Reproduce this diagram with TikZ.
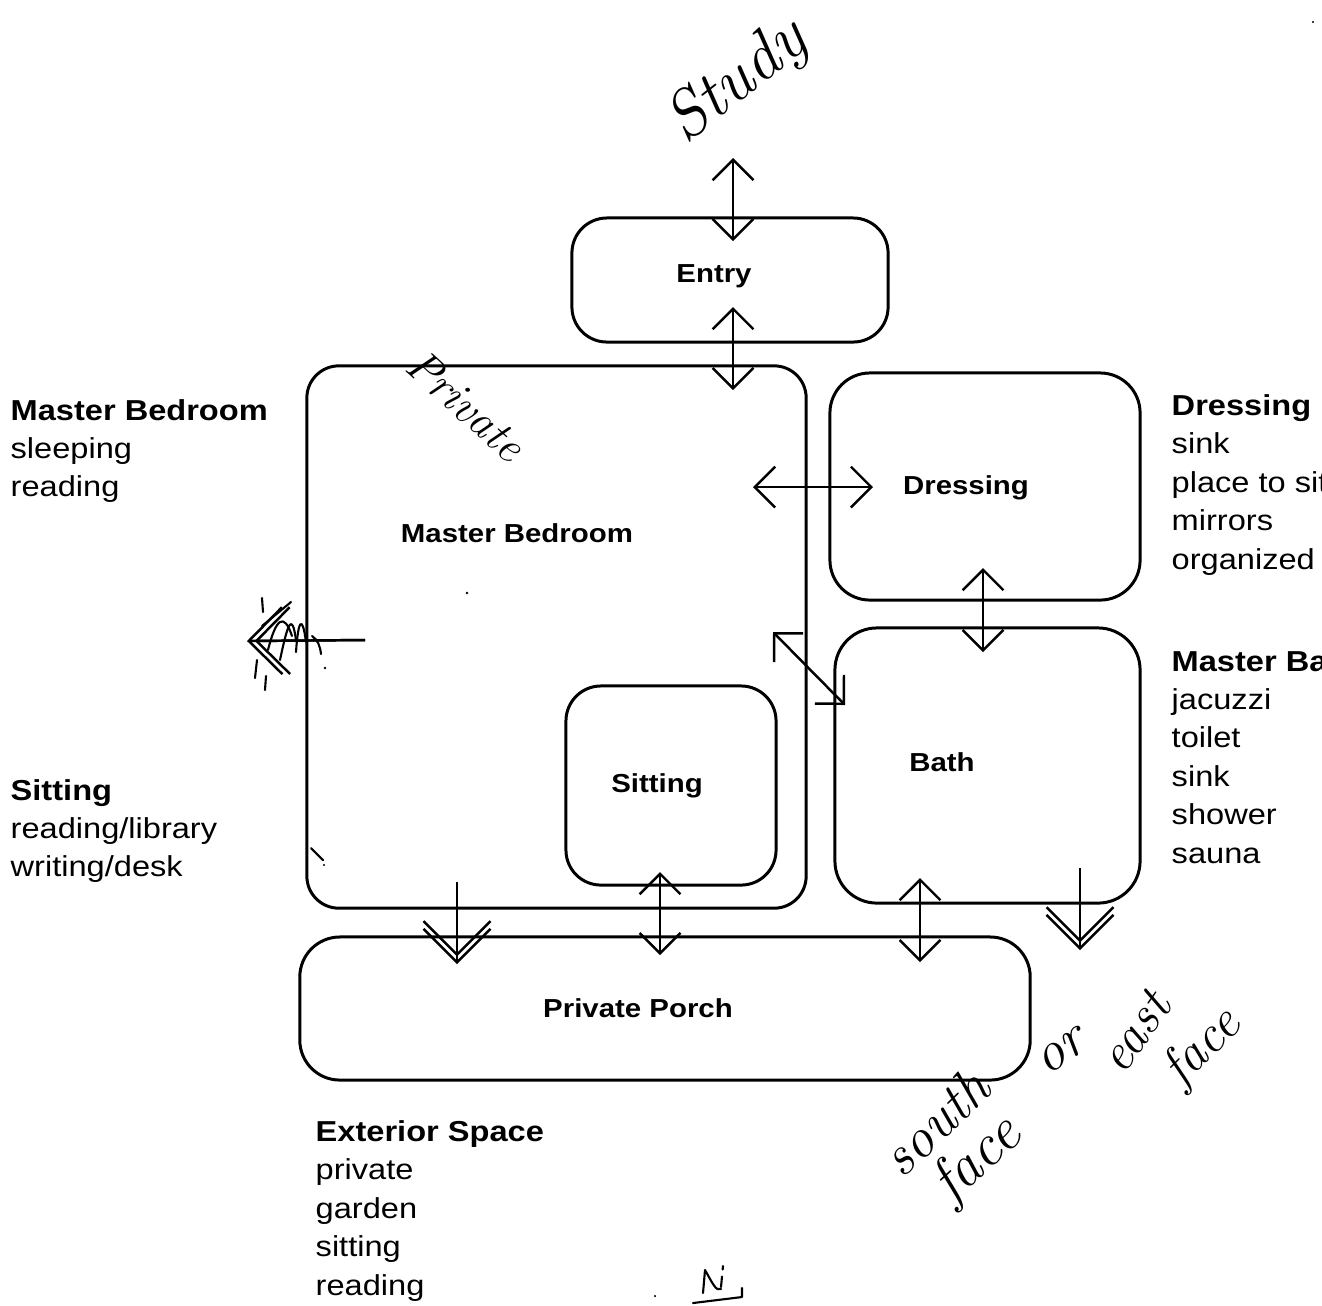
\documentclass[tikz,border=0pt]{standalone}
\usepackage{fontspec}
\newfontfamily\lab{Liberation Sans}[FakeStretch=1.13]
\usetikzlibrary{arrows.meta}
\begin{document}
\begin{tikzpicture}[x=0.01cm,y=-0.01cm,
  room/.style={draw, line width=0.85pt, rounded corners=#1, inner sep=0pt},
  room/.default=0.35cm,
  roomname/.style={font=\lab\fontsize{7.4}{9}\selectfont\bfseries, inner sep=0pt, anchor=base},
  head/.style={font=\lab\fontsize{8.2}{10}\selectfont\bfseries, inner sep=0pt, anchor=base west},
  item/.style={font=\lab\fontsize{8.2}{10}\selectfont, inner sep=0pt, anchor=base west},
  hand/.style={font=\itshape\fontsize{#1}{#1}\selectfont, inner sep=0pt},
  >={Straight Barb[length=5.8pt,width=11.6pt]},
  link/.style={line width=0.7pt, <->},
  exit/.style={line width=0.7pt, -{Straight Barb[length=9.5pt,width=19pt]}},
  scribble/.style={line width=0.6pt, line cap=round, line join=round}]

\clip (0,0) rectangle (1322,1305);
\useasboundingbox (0,0) rectangle (1322,1305);

% rooms
\node[room=0.35cm, minimum width=3.16cm, minimum height=1.24cm] (entry) at (730,280) {};
\node[room=0.32cm, minimum width=4.99cm, minimum height=5.42cm] (bed) at (556.5,637) {};
\node[room=0.4cm, minimum width=3.10cm, minimum height=2.27cm] (dress) at (985,486.5) {};
\node[room=0.42cm, minimum width=3.05cm, minimum height=2.75cm] (bath) at (987.5,765.5) {};
\node[room=0.35cm, minimum width=2.10cm, minimum height=1.99cm] (sit) at (671,785.5) {};
\node[room=0.4cm, minimum width=7.30cm, minimum height=1.43cm] (porch) at (665,1008.5) {};

% room names
\node[roomname] (entryT) at (714,282) {Entry};
\node[roomname] (bedT) at (517,542) {Master Bedroom};
\node[roomname] (dressT) at (966,494) {Dressing};
\node[roomname] (bathT) at (942,771) {Bath};
\node[roomname] (sitT) at (657,792) {Sitting};
\node[roomname] (porchT) at (638,1017) {Private Porch};

% arrow end points
\coordinate (studyA) at (733,158);  \coordinate (studyB) at (733,241);
\coordinate (ebA) at (733,307);     \coordinate (ebB) at (733,390);
\coordinate (bdA) at (753,487);     \coordinate (bdB) at (873,487);
\coordinate (dbA) at (983,568);     \coordinate (dbB) at (983,652);
\coordinate (diagA) at (773,632);   \coordinate (diagB) at (845,705);
\coordinate (spA) at (660,872);     \coordinate (spB) at (660,955);
\coordinate (bpA) at (920,878);     \coordinate (bpB) at (920,962);
\coordinate (westA) at (365,640);   \coordinate (westB) at (247,641);
\coordinate (southA) at (457,882);  \coordinate (southB) at (457,964);
\coordinate (eastA) at (1080,868);  \coordinate (eastB) at (1080,950);

% two-way links
\draw[link] (studyA) -- (studyB);
\draw[link] (ebA) -- (ebB);
\draw[link] (bdA) -- (bdB);
\draw[link] (dbA) -- (dbB);
\draw[link] (diagA) -- (diagB);
\draw[link] (spA) -- (spB);
\draw[link] (bpA) -- (bpB);

% outward views, double heads
\foreach \a/\b in {westA/westB, southA/southB, eastA/eastB}{
  \draw[exit] (\a) -- (\b);
  \draw[exit, shorten >=2.2pt] (\a) -- (\b);
}

% marks scrawled over the west arrow
\draw[scribble] (268,650) .. controls (276,618) and (284,612) .. (292,636);
\draw[scribble] (280,660) .. controls (288,622) and (292,612) .. (296,640);
\draw[scribble] (296,652) .. controls (298,622) and (302,612) .. (306,642);
\draw[scribble] (312,636) .. controls (318,640) and (320,646) .. (321,654);
\draw[scribble] (262,598) -- (263,612);
\draw[scribble] (257,660) -- (255,678);
\draw[scribble] (266,676) -- (265,690);
\draw[scribble] (262,626) -- (291,602);
\fill (325,668) circle (1.3);

% stray marks
\draw[scribble] (311,848) -- (323,860);
\fill (324,865) circle (1.2);
\fill (467,593) circle (1.3);
\fill (655,1296) circle (1.2);
\fill (1313,22) circle (1.2);

% north sign
\draw[scribble] (703,1293) -- (705,1270) .. controls (712,1282) and (716,1292) .. (721,1289);
\draw[scribble, densely dashed] (721,1287) -- (723,1266);
\draw[scribble] (693,1303) -- (742,1297) -- (742,1288);

% handwritten notes
\node[hand=19, rotate=38] (noteStudy) at (738,82) {Study};
\node[hand=13, rotate=-42] (notePrivate) at (466,405) {Private};
\node[hand=16, rotate=44] (noteSouth) at (935,1122) {south};
\node[hand=17, rotate=42] (noteFace) at (978,1160) {face};
\node[hand=16, rotate=35] (noteOr) at (1062,1052) {or};
\node[hand=15, rotate=55] (noteEast) at (1135,1032) {east};
\node[hand=15, rotate=45] (noteFace2) at (1203,1048) {face};

% program lists
\node[head] (lMB) at (10,420) {Master Bedroom};
\foreach \t [count=\i] in {sleeping, reading}
  \node[item] (lMB\i) at (10,{420+38.4*\i}) {\t};

\node[head] (lSit) at (10,800) {Sitting};
\foreach \t [count=\i] in {reading/library, writing/desk}
  \node[item] (lSit\i) at (10,{800+38.4*\i}) {\t};

\node[head] (lExt) at (315,1141) {Exterior Space};
\foreach \t [count=\i] in {private, garden, sitting, reading}
  \node[item] (lExt\i) at (315,{1141+38.5*\i}) {\t};

\node[head] (rDr) at (1171,415) {Dressing};
\foreach \t [count=\i] in {sink, place to sit, mirrors, organized storage}
  \node[item] (rDr\i) at (1171,{415+38.5*\i}) {\t};

\node[head] (rBa) at (1171,671) {Master Bath};
\foreach \t [count=\i] in {jacuzzi, toilet, sink, shower, sauna}
  \node[item] (rBa\i) at (1171,{671+38.4*\i}) {\t};

\end{tikzpicture}
\end{document}
